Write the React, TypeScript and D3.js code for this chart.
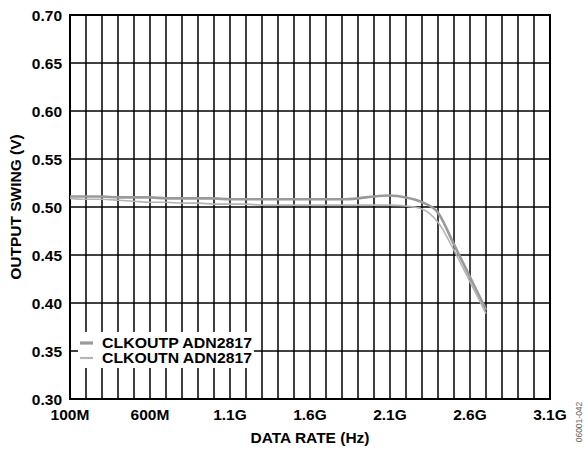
import React from 'react';
import * as d3 from 'd3';

// data rate in MHz
const rates = [100, 200, 300, 400, 500, 600, 700, 800, 900, 1000, 1100, 1200, 1300, 1400, 1500, 1600, 1700, 1800, 1900, 2000, 2100, 2200, 2300, 2400, 2500, 2600, 2700];
const clkoutp = [0.511, 0.511, 0.511, 0.510, 0.510, 0.510, 0.509, 0.509, 0.509, 0.509, 0.508, 0.508, 0.508, 0.508, 0.508, 0.508, 0.508, 0.508, 0.509, 0.511, 0.512, 0.510, 0.505, 0.494, 0.461, 0.427, 0.393];
const clkoutn = [0.509, 0.508, 0.508, 0.507, 0.506, 0.505, 0.505, 0.504, 0.504, 0.503, 0.503, 0.503, 0.502, 0.502, 0.502, 0.502, 0.502, 0.502, 0.502, 0.502, 0.502, 0.501, 0.498, 0.484, 0.455, 0.422, 0.389];
const xTicks = [100, 600, 1100, 1600, 2100, 2600, 3100];
const xTickLabels = ['100M', '600M', '1.1G', '1.6G', '2.1G', '2.6G', '3.1G'];
const yTicks = [0.3, 0.35, 0.4, 0.45, 0.5, 0.55, 0.6, 0.65, 0.7];
const seriesNames = ['CLKOUTP ADN2817', 'CLKOUTN ADN2817'];

const W = 587, H = 452;
const left = 70, right = 550, top = 15, bottom = 399;
const font = '"Liberation Sans", Arial, Helvetica, sans-serif';

const App = () => {
  const x = d3.scaleLinear().domain([100, 3100]).range([left, right]);
  const y = d3.scaleLinear().domain([0.3, 0.7]).range([bottom, top]);

  const gridX = d3.range(100, 3101, 100);

  const line = (vals: number[]) =>
    d3.line<number>()
      .x((_, i) => x(rates[i]))
      .y(d => y(d))
      .curve(d3.curveMonotoneX)(vals) as string;

  const series = [
    { name: seriesNames[0], vals: clkoutp, color: '#9a9a9a', width: 2.6 },
    { name: seriesNames[1], vals: clkoutn, color: '#b4b4b4', width: 1.6 },
  ];

  return (
    <svg width={W} height={H} style={{ position: 'absolute', left: 0, top: 0, background: '#fff' }}
      fontFamily={font} fontWeight="bold">
      {/* grid */}
      {gridX.map(g => (
        <line key={'gx' + g} x1={x(g)} x2={x(g)} y1={top} y2={bottom} stroke="#000" strokeWidth={1.5} />
      ))}
      {yTicks.map(t => (
        <line key={'gy' + t} x1={left} x2={right} y1={y(t)} y2={y(t)} stroke="#000" strokeWidth={1.5} />
      ))}
      <rect x={left} y={top} width={right - left} height={bottom - top} fill="none" stroke="#000" strokeWidth={2} />

      {/* curves */}
      {series.map(s => (
        <path key={s.name} d={line(s.vals)} fill="none" stroke={s.color} strokeWidth={s.width} />
      ))}

      {/* legend */}
      <rect x={78} y={332} width={176} height={36} fill="#fff" />
      {series.map((s, i) => (
        <g key={'lg' + i}>
          <line x1={80} x2={93} y1={343 + i * 15} y2={343 + i * 15} stroke={s.color} strokeWidth={s.width + 0.6} />
          <text x={102} y={347.5 + i * 15.5} fontSize={14.5} textLength={150} lengthAdjust="spacingAndGlyphs">{s.name}</text>
        </g>
      ))}

      {/* y ticks */}
      {yTicks.map(t => (
        <text key={'yl' + t} x={62} y={y(t)} dy="0.36em" textAnchor="end" fontSize={15.5}>{t.toFixed(2)}</text>
      ))}
      {/* x ticks */}
      {xTicks.map((t, i) => (
        <text key={'xl' + t} x={x(t)} y={420} textAnchor="middle" fontSize={15.5}>{xTickLabels[i]}</text>
      ))}

      <text x={310} y={443} textAnchor="middle" fontSize={15.5}>DATA RATE (Hz)</text>
      <text transform={`translate(21,${(top + bottom) / 2}) rotate(-90)`} textAnchor="middle" fontSize={15.5}>OUTPUT SWING (V)</text>
      <text transform="translate(582,422) rotate(-90)" textAnchor="middle" fontSize={8.5} fontWeight="normal" fill="#666">06001-042</text>
    </svg>
  );
};

export default App;
